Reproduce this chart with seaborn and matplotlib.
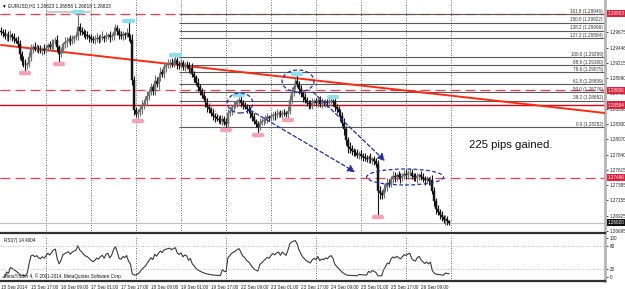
import numpy as np
import pandas as pd
import matplotlib
matplotlib.use("Agg")
import matplotlib.pyplot as plt
import matplotlib.transforms as mtransforms
from matplotlib.patches import Ellipse
import seaborn as sns

# EURUSD H1 closes in pips (price * 10000), from 15 Sep 2014 00:00
closes = [
    12968, 12966, 12962, 12964, 12960, 12963, 12961, 12958, 12955, 12950,
    12935, 12925, 12922, 12918, 12920, 12930, 12944, 12946, 12943, 12945,
    12942, 12940, 12943, 12941, 12944, 12948, 12946, 12950, 12954, 12956,
    12945, 12935, 12940, 12950, 12953, 12955, 12957, 12954, 12958, 12960,
    12962, 12975, 12970, 12968, 12965, 12963, 12962, 12960, 12958, 12956,
    12957, 12959, 12958, 12960, 12961, 12959, 12962, 12963, 12960, 12962,
    12968, 12974, 12970, 12963, 12962, 12965, 12964, 12966, 12960, 12956,
    12896, 12851, 12845, 12848, 12852, 12858, 12862, 12866, 12872, 12878,
    12885, 12880, 12895, 12890, 12900, 12908, 12905, 12915, 12918, 12920,
    12922, 12920, 12924, 12926, 12920, 12918, 12921, 12916, 12919, 12918,
    12912, 12914, 12905, 12900, 12892, 12885, 12880, 12874, 12868, 12862,
    12855, 12852, 12846, 12842, 12840, 12838, 12836, 12834, 12838, 12833,
    12830, 12846, 12850, 12855, 12858, 12860, 12864, 12866, 12862, 12858,
    12856, 12852, 12850, 12846, 12840, 12834, 12830, 12826, 12832, 12834,
    12836, 12838, 12840, 12839, 12842, 12844, 12843, 12845, 12846, 12844,
    12847, 12846, 12845, 12850, 12866, 12878, 12886, 12894, 12890, 12882,
    12876, 12870, 12866, 12862, 12860, 12858, 12862, 12864, 12862, 12866,
    12860, 12862, 12861, 12863, 12862, 12864, 12865, 12863, 12856, 12852,
    12848, 12842, 12832, 12822, 12806, 12795, 12792, 12790, 12788, 12786,
    12784, 12785, 12782, 12780, 12779, 12778, 12780, 12776, 12777, 12775,
    12770, 12730, 12726, 12724, 12732, 12736, 12742, 12740, 12748, 12752,
    12750, 12753, 12751, 12749, 12752, 12755, 12754, 12756, 12757, 12752,
    12750, 12749, 12752, 12753, 12750, 12748, 12746, 12747, 12745, 12746,
    12730, 12715, 12702, 12698, 12694, 12690, 12686, 12688, 12684, 12682,
]
first_open = 12970

# upper / lower wick lengths in pips
up_wick = [
    5, 4, 7, 3, 6, 8, 4, 5, 3, 7, 6, 4, 7, 5, 3, 8, 6, 4, 7, 5,
    4, 6, 3, 7, 5, 4, 6, 8, 4, 5, 7, 4, 6, 3, 8, 5, 4, 7, 5, 3,
    6, 21, 7, 5, 4, 6, 7, 3, 5, 4, 6, 7, 4, 5, 8, 3, 6, 4, 7, 5,
    7, 6, 5, 4, 7, 5, 3, 8, 17, 5, 9, 6, 4, 5, 7, 8, 5, 6, 8, 5,
    7, 5, 8, 6, 7, 8, 5, 6, 5, 7, 6, 7, 5, 6, 5, 4, 7, 5, 4, 6,
    5, 4, 7, 5, 4, 7, 5, 4, 6, 4, 7, 5, 4, 6, 4, 5, 4, 7, 5, 4,
    6, 7, 5, 4, 7, 5, 4, 5, 6, 4, 5, 4, 7, 5, 4, 6, 4, 5, 7, 5,
    4, 6, 7, 4, 5, 4, 6, 7, 4, 5, 4, 6, 4, 7, 8, 7, 5, 7, 9, 5,
    6, 4, 7, 5, 4, 6, 7, 4, 5, 4, 6, 7, 4, 5, 4, 6, 5, 3, 6, 4,
    5, 4, 6, 7, 5, 4, 8, 6, 4, 5, 7, 4, 6, 4, 7, 5, 4, 6, 4, 5,
    4, 6, 7, 5, 8, 6, 7, 5, 4, 7, 6, 4, 7, 5, 4, 6, 7, 5, 7, 5,
    4, 7, 5, 4, 6, 7, 4, 5, 4, 6, 7, 5, 4, 6, 4, 5, 4, 5, 4, 2,
]
dn_wick = [
    4, 6, 4, 7, 5, 4, 6, 7, 4, 5, 8, 6, 7, 8, 5, 4, 6, 7, 4, 5,
    5, 4, 7, 6, 4, 5, 4, 6, 7, 4, 6, 12, 5, 4, 6, 7, 4, 5, 4, 6,
    4, 6, 7, 5, 4, 6, 4, 7, 5, 4, 6, 4, 7, 5, 4, 6, 4, 5, 7, 4,
    6, 4, 7, 5, 4, 6, 7, 4, 6, 4, 8, 7, 5, 7, 6, 7, 5, 4, 7, 6,
    5, 7, 6, 4, 7, 5, 4, 6, 7, 4, 6, 4, 5, 4, 7, 6, 4, 5, 7, 4,
    6, 4, 5, 7, 4, 6, 7, 5, 4, 6, 7, 5, 4, 6, 7, 4, 5, 4, 6, 5,
    6, 5, 4, 6, 7, 4, 5, 4, 7, 5, 4, 6, 4, 7, 5, 4, 5, 10, 5, 4,
    5, 4, 7, 5, 4, 6, 7, 4, 5, 4, 5, 4, 5, 6, 5, 4, 6, 4, 5, 7,
    5, 7, 4, 5, 7, 4, 6, 4, 5, 7, 4, 6, 4, 5, 7, 5, 4, 6, 7, 5,
    6, 7, 5, 8, 7, 9, 5, 7, 6, 4, 5, 7, 4, 6, 4, 5, 7, 4, 6, 7,
    5, 36, 8, 7, 5, 4, 7, 5, 4, 6, 7, 5, 4, 7, 5, 4, 6, 7, 4, 5,
    5, 4, 7, 6, 4, 5, 7, 4, 6, 7, 5, 8, 7, 5, 7, 6, 4, 7, 5, 4,
]

date_labels = ["15 Sep 2014", "15 Sep 17:00", "16 Sep 09:00", "17 Sep 01:00",
               "17 Sep 17:00", "18 Sep 09:00", "19 Sep 01:00", "19 Sep 17:00",
               "22 Sep 09:00", "23 Sep 01:00", "23 Sep 17:00", "24 Sep 09:00",
               "25 Sep 01:00", "25 Sep 17:00", "26 Sep 09:00"]
price_ticks = [1.26695, 1.26925, 1.27155, 1.27385, 1.27615, 1.27840, 1.28070,
               1.28300, 1.28530, 1.28760, 1.28990, 1.29215, 1.29446, 1.29675]

red_dashed = [1.29953, 1.28806, 1.27496]
red_solid = [1.28584]
trend_pts = ([0, 322], [1.29485, 1.28465])

fib_zero, fib_hundred = 1.28252, 1.29299
fib_levels = [0.0, 38.2, 50.0, 61.8, 78.6, 88.6, 100.0, 127.2, 138.2, 150.0, 161.8]
fib_start, fib_end_bar = 95, 120

low_marks = [13, 31, 73, 120, 137, 153, 201]
high_marks = [41, 68, 93, 127, 158, 177]

# ---- build OHLC ----
c = np.array(closes) / 1e4
o = np.concatenate([[first_open / 1e4], c[:-1]])
hi = np.maximum(o, c) + np.array(up_wick) / 1e4
lo = np.minimum(o, c) - np.array(dn_wick) / 1e4
bars = np.arange(len(c))
df = pd.DataFrame({"bar": bars, "open": o, "high": hi, "low": lo, "close": c})

# RSI(7)
delta = df["close"].diff()
gain = delta.clip(lower=0).ewm(alpha=1 / 7, adjust=False).mean()
loss = (-delta.clip(upper=0)).ewm(alpha=1 / 7, adjust=False).mean()
df["rsi"] = 100 - 100 / (1 + gain / loss)

sns.set_theme(style="white")
plt.rcParams["font.family"] = ["Liberation Sans", "DejaVu Sans"]

W, H = 625, 289
fig = plt.figure(figsize=(W / 100, H / 100), dpi=100)
fig.patch.set_facecolor("white")
ax = fig.add_axes([0, 1 - 233 / H, 605 / W, 233 / H])
ax2 = fig.add_axes([0, 1 - 281 / H, 605 / W, 45 / H])

xmin, xmax = -0.53, 322.1
for a in (ax, ax2):
    a.set_xlim(xmin, xmax)
    a.set_facecolor("white")
    for s in ("left", "top"):
        a.spines[s].set_visible(False)
    a.spines["right"].set_color("#b4b4b4")
    a.spines["right"].set_linewidth(2)
    a.spines["bottom"].set_color("#303030")
    a.spines["bottom"].set_linewidth(1.6)
    a.set_xticks(np.arange(24, 241, 24), minor=True)
    a.grid(which="minor", axis="x", ls=(0, (1, 2)), color="#333333", lw=0.6)
    a.grid(which="major", visible=False)
    a.tick_params(which="minor", length=0)

ax.set_ylim(1.26665, 1.30160)

# horizontal objects
for p in red_dashed:
    ax.axhline(p, color="#e8404c", lw=0.9, ls=(0, (8, 4)), zorder=2)
for p in red_solid:
    ax.axhline(p, color="#e60010", lw=1.0, zorder=2)
ax.axhline(df["close"].iloc[-1], color="#c0c0c0", lw=0.8, zorder=1)
ax.hlines(1.2998, 24, 48, color="#cccccc", lw=1.5, zorder=1)

# fibonacci
rng = fib_hundred - fib_zero
for lvl in fib_levels:
    p = fib_zero + rng * lvl / 100
    ax.hlines(p, fib_start, xmax, color="#5a5a5a", lw=0.8, zorder=2)
    ax.text(xmax - 1, p + 0.00004, f"{lvl:.1f} ({p:.5f})", fontsize=3.3,
            ha="right", va="bottom", color="#333333", zorder=6)
ax.plot([fib_start, fib_end_bar], [fib_hundred, fib_zero], color="#e04040",
        lw=0.7, ls=(0, (1, 2)), zorder=2)

# candles
bull = df["close"] >= df["open"]
cols = np.where(bull, "#707070", "#141414")
ax.vlines(df["bar"], df["low"], df["high"], colors=cols, lw=0.8, zorder=4)
body = (df["close"] - df["open"]).where(lambda s: s.abs() > 0.00003, 0.00003)
ax.bar(df["bar"], body, bottom=df["open"], width=0.9, color=cols,
       edgecolor=cols, lw=0.3, zorder=4)

# trend line
ax.plot(*trend_pts, color="#ff2a10", lw=1.4, zorder=3)

# swing markers
for b in low_marks:
    y = df["low"].iloc[b] - 0.0003
    ax.plot([b - 2.2, b + 2.2], [y, y], color="#f5a3b4", lw=3.2,
            solid_capstyle="round", zorder=5)
for b in high_marks:
    y = df["high"].iloc[b] + 0.0002
    ax.plot([b - 2.2, b + 2.2], [y, y], color="#8fe0ea", lw=3.2,
            solid_capstyle="round", zorder=5)

# ellipses and arrows
blue = "#1c2fa8"
for (cx, cy, w, h) in [(127.5, 1.28615, 13.5, 0.0030),
                       (158.4, 1.28945, 17.0, 0.0033),
                       (215.5, 1.27505, 41.0, 0.0024)]:
    ax.add_patch(Ellipse((cx, cy), w, h, fill=False, ec=blue, lw=0.9,
                         ls=(0, (3, 2)), zorder=6))
for (x0, y0, x1, y1) in [(132.8, 1.28510, 188.8, 1.27580),
                         (166.4, 1.28780, 204.8, 1.27745)]:
    ax.annotate("", xy=(x1, y1), xytext=(x0, y0), zorder=6,
                arrowprops=dict(arrowstyle="-|>,head_length=0.35,head_width=0.18",
                                color=blue, lw=0.9, ls=(0, (3, 2)),
                                shrinkA=0, shrinkB=0))

ax.text(511 / 605, 1 - 145 / 233, "225 pips gained.", transform=ax.transAxes,
        fontsize=8.2, ha="center", va="center", color="#111111")

# right price axis
ax.yaxis.tick_right()
ax.set_yticks(price_ticks)
ax.set_yticklabels([f"{p:.5f}" for p in price_ticks])
ax.tick_params(axis="y", which="major", length=2, width=0.6, labelsize=3.3,
               pad=1.2, colors="#222222")
ax.set_xticks([])
ytr = mtransforms.blended_transform_factory(ax.transAxes, ax.transData)
for p in red_dashed + red_solid:
    ax.text(1.005, p, f"{p:.5f}", transform=ytr, fontsize=3.3, color="white",
            va="center", ha="left", clip_on=False, zorder=10,
            bbox=dict(boxstyle="square,pad=0.25", fc="#e0203c", ec="none"))
ax.text(1.005, df["close"].iloc[-1], f"{df['close'].iloc[-1]:.5f}", transform=ytr,
        fontsize=3.3, color="white", va="center", ha="left", clip_on=False,
        zorder=10, bbox=dict(boxstyle="square,pad=0.25", fc="#111111", ec="none"))

fig.text(0.004, 1 - 6 / H,
         "\u25bc EURUSD,H1 1.26823 1.26856 1.26818 1.26823",
         fontsize=3.4, ha="left", va="center", color="#111111",
         family=["Liberation Sans", "DejaVu Sans"])

# RSI panel
sns.lineplot(data=df, x="bar", y="rsi", ax=ax2, color="#3a3a3a", lw=0.8)
ax2.set_ylim(-10, 105)
for lv in (80, 20):
    ax2.axhline(lv, color="#a8a8a8", lw=0.6, ls=(0, (1, 2)))
ax2.yaxis.tick_right()
ax2.set_yticks([0, 20, 80, 100])
ax2.set_yticklabels(["0", "20", "80", "100"])
ax2.tick_params(axis="y", length=2, width=0.6, labelsize=3.3, pad=1.2,
                colors="#222222")
ax2.set_xticks(np.arange(0, 225, 16))
ax2.set_xticklabels(date_labels, ha="left")
ax2.tick_params(axis="x", which="major", length=2, width=0.6, labelsize=3.3,
                pad=1, colors="#222222")
ax2.set_xlabel("")
ax2.set_ylabel("")
ax2.text(0.006, 0.9, "RSI(7) 14.4004", transform=ax2.transAxes,
         fontsize=3.3, ha="left", va="center", color="#111111")
ax2.text(0.006, 0.1, "MetaTrader 4, \u00a9 2001-2014, MetaQuotes Software Corp.",
         transform=ax2.transAxes, fontsize=3.3, ha="left", va="center",
         color="#111111")

fig.savefig("out.png", dpi=100, facecolor="white")
